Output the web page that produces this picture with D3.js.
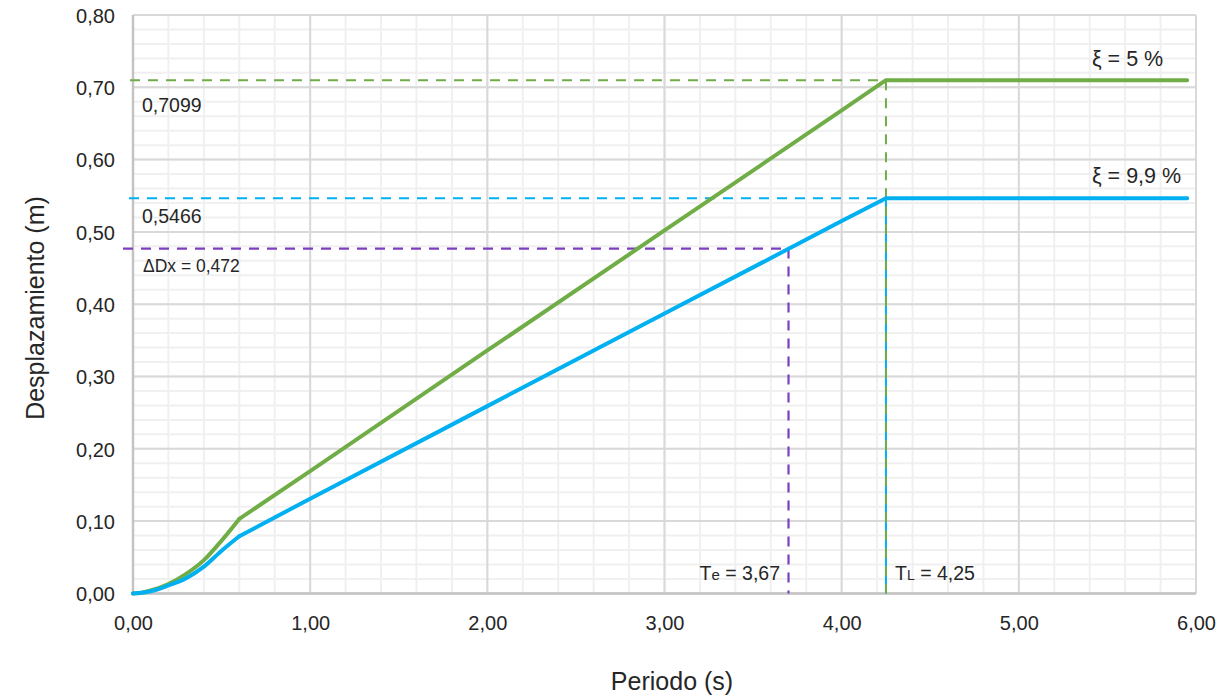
<!DOCTYPE html>
<html><head><meta charset="utf-8">
<script src="https://cdn.jsdelivr.net/npm/d3@7"></script>
<style>body{margin:0;background:#fff;} text{font-family:"Liberation Sans",Arial,sans-serif;fill:#262626;}</style>
</head><body>
<svg id="c" width="1219" height="698"></svg>
<script>
// data
const periods = [0, 0.05, 0.1, 0.2, 0.3, 0.4, 0.5, 0.6, 1.0, 2.0, 3.0, 4.0, 4.25, 5.0, 5.95];
const sd5   = [0, 0.001, 0.004, 0.013, 0.027, 0.046, 0.073, 0.103, 0.169, 0.336, 0.502, 0.668, 0.7099, 0.7099, 0.7099];
const sd99  = [0, 0.001, 0.003, 0.011, 0.021, 0.037, 0.059, 0.079, 0.131, 0.259, 0.387, 0.515, 0.5466, 0.5466, 0.5466];
const xTicks = [0, 1, 2, 3, 4, 5, 6];
const yTicks = [0, 0.1, 0.2, 0.3, 0.4, 0.5, 0.6, 0.7, 0.8];
const TL = 4.25, D5 = 0.7099, D99 = 0.5466;
const Te = 3.70, dDx = 0.477;   // positions of the purple guides as drawn
const labels = {d5:"0,7099", d99:"0,5466", dDx:"ΔDx = 0,472", xi5:"ξ = 5 %", xi99:"ξ = 9,9 %"};
const curvedUpTo = 0.6;  // smooth (spline) part of the curves; straight segments after

const green = "#70ad47", blue = "#00b0f0", purple = "#7b3fc0";
const svg = d3.select("#c");
const x = d3.scaleLinear().domain([0, 6]).range([133, 1196]);
const y = d3.scaleLinear().domain([0, 0.8]).range([593.4, 15]);
const fmt = v => d3.format(".2f")(v).replace(".", ",");

// minor grid
const xMinor = d3.range(0, 6.0001, 0.2), yMinor = d3.range(0, 0.8001, 0.02);
svg.append("g").selectAll("line").data(xMinor).join("line")
  .attr("x1", d => x(d)).attr("x2", d => x(d)).attr("y1", y(0)).attr("y2", y(0.8))
  .attr("stroke", "#f0f0f0").attr("stroke-width", 2);
svg.append("g").selectAll("line").data(yMinor).join("line")
  .attr("y1", d => y(d)).attr("y2", d => y(d)).attr("x1", x(0)).attr("x2", x(6))
  .attr("stroke", "#f0f0f0").attr("stroke-width", 2);
// major grid
svg.append("g").selectAll("line").data(xTicks).join("line")
  .attr("x1", d => x(d)).attr("x2", d => x(d)).attr("y1", y(0)).attr("y2", y(0.8))
  .attr("stroke", "#d9d9d9").attr("stroke-width", 2);
svg.append("g").selectAll("line").data(yTicks).join("line")
  .attr("y1", d => y(d)).attr("y2", d => y(d)).attr("x1", x(0)).attr("x2", x(6))
  .attr("stroke", "#d9d9d9").attr("stroke-width", 2);
// axes lines
svg.append("line").attr("x1", x(0)).attr("x2", x(0)).attr("y1", y(0)).attr("y2", y(0.8)).attr("stroke", "#c4c4c4").attr("stroke-width", 2.5);
svg.append("line").attr("x1", x(0)).attr("x2", x(6)).attr("y1", y(0)).attr("y2", y(0)).attr("stroke", "#c4c4c4").attr("stroke-width", 2.5);

// axes via d3 axis (labels only)
const xAxis = svg.append("g").attr("transform", `translate(0,${y(0)})`)
  .call(d3.axisBottom(x).tickValues(xTicks).tickFormat(fmt).tickSize(0).tickPadding(22));
const yAxis = svg.append("g").attr("transform", `translate(${x(0)},0)`)
  .call(d3.axisLeft(y).tickValues(yTicks).tickFormat(fmt).tickSize(0).tickPadding(18));
[xAxis, yAxis].forEach(g => { g.select(".domain").remove(); g.selectAll("text").attr("font-size", 20).attr("fill", "#262626").attr("font-family", "Liberation Sans, Arial"); });
yAxis.selectAll("text").attr("dy", "0.36em");

// reference dashed lines
const dash = "10,8";
svg.append("line").attr("x1", x(0) - 3).attr("x2", x(TL)).attr("y1", y(D5)).attr("y2", y(D5)).attr("stroke", green).attr("stroke-width", 2).attr("stroke-dasharray", dash);
svg.append("line").attr("x1", x(0) - 4).attr("x2", x(TL)).attr("y1", y(D99)).attr("y2", y(D99)).attr("stroke", blue).attr("stroke-width", 2).attr("stroke-dasharray", dash);
svg.append("line").attr("x1", x(0) - 10).attr("x2", x(Te)).attr("y1", y(dDx)).attr("y2", y(dDx)).attr("stroke", purple).attr("stroke-width", 2.2).attr("stroke-dasharray", dash);
svg.append("line").attr("x1", x(Te)).attr("x2", x(Te)).attr("y1", y(dDx)).attr("y2", y(0)).attr("stroke", purple).attr("stroke-width", 2.2).attr("stroke-dasharray", dash);
svg.append("line").attr("x1", x(TL)).attr("x2", x(TL)).attr("y1", y(D99)).attr("y2", y(0)).attr("stroke", blue).attr("stroke-width", 2);
svg.append("line").attr("x1", x(TL)).attr("x2", x(TL)).attr("y1", y(D5)).attr("y2", y(0)).attr("stroke", green).attr("stroke-width", 2).attr("stroke-dasharray", dash);

// curves: spline for the short-period part, straight lines afterwards
const smooth = d3.line().curve(d3.curveMonotoneX);
const straight = d3.line();
const series = [{v: sd5, c: green}, {v: sd99, c: blue}];
series.forEach(s => {
  const pts = periods.map((p, i) => [x(p), y(s.v[i]), p]);
  const a = pts.filter(d => d[2] <= curvedUpTo), b = pts.filter(d => d[2] >= curvedUpTo);
  [smooth(a), straight(b)].forEach(dd =>
    svg.append("path").attr("d", dd).attr("fill", "none").attr("stroke", s.c)
      .attr("stroke-width", 4).attr("stroke-linecap", "round").attr("stroke-linejoin", "round"));
});

// annotations
svg.append("text").attr("x", 142).attr("y", 112).attr("font-size", 19.5).text(labels.d5);
svg.append("text").attr("x", 142).attr("y", 223).attr("font-size", 19.5).text(labels.d99);
svg.append("text").attr("x", 143).attr("y", 272).attr("font-size", 17.5).text(labels.dDx);
svg.append("text").attr("x", 1092).attr("y", 66).attr("font-size", 21.5).text(labels.xi5);
svg.append("text").attr("x", 1092).attr("y", 183).attr("font-size", 21.5).text(labels.xi99);

const te = svg.append("text").attr("x", 780).attr("y", 580).attr("text-anchor", "end").attr("font-size", 19.5);
te.append("tspan").text("T");
te.append("tspan").attr("font-size", 15).text("e");
te.append("tspan").text(" = 3,67");
const tl = svg.append("text").attr("x", 895).attr("y", 580).attr("font-size", 19.5);
tl.append("tspan").text("T");
tl.append("tspan").attr("font-size", 14).text("L");
tl.append("tspan").text(" = 4,25");

// axis titles
svg.append("text").attr("x", 672).attr("y", 690).attr("text-anchor", "middle").attr("font-size", 25).text("Periodo (s)");
svg.append("text").attr("transform", "translate(44,308) rotate(-90)").attr("text-anchor", "middle").attr("font-size", 25).text("Desplazamiento (m)");
</script>
</body></html>
